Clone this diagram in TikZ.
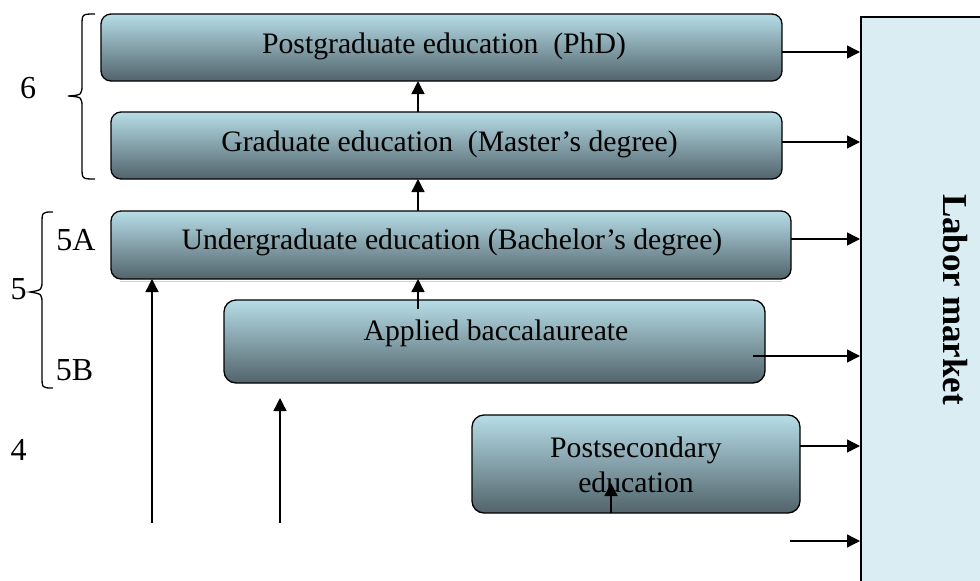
\documentclass[tikz,border=0pt]{standalone}
\usepackage{fontspec}
\setmainfont{Liberation Serif}
\usetikzlibrary{arrows.meta,calc}
\definecolor{boxtop}{HTML}{B6DDE7}
\definecolor{boxmid}{HTML}{A0BFC7}
\definecolor{boxbot}{HTML}{52636B}
\definecolor{lmfill}{HTML}{DAEDF3}
\begin{document}
\begin{tikzpicture}[x=1pt,y=-1pt,
  ebox/.style={draw=black, line width=1.3pt, rounded corners=10pt,
    top color=boxtop, middle color=boxmid, bottom color=boxbot,
    inner sep=0pt, outer sep=0pt},
  txt/.style={font=\fontsize{29.7}{35}\selectfont, inner sep=0pt, align=center},
  lvl/.style={font=\fontsize{32}{36}\selectfont, inner sep=0pt},
  arr/.style={line width=1.4pt, -{Triangle[length=13pt,width=13pt]}},
  brace/.style={line width=1.3pt}
]
\useasboundingbox (0,0) rectangle (980,581);

% Labor market
\begin{scope}
\clip (0,0) rectangle (980,581);
\node[draw=black, line width=1.5pt, fill=lmfill, minimum width=140pt, minimum height=600pt, anchor=north west, inner sep=0pt] (lm) at (860,16) {};
\end{scope}
\node[font=\fontsize{35}{40}\selectfont\bfseries, rotate=-90, inner sep=0pt] (lmt) at (955.5,299.5) {Labor market};

% boxes
\node[ebox, minimum width=681pt, minimum height=67pt] (pg) at (441.5,47.5) {};
\node[ebox, minimum width=671pt, minimum height=67pt] (gr) at (446.5,145.5) {};
\draw[gray!35, line width=1pt] (120,281) -- (782,281);
\node[ebox, minimum width=680pt, minimum height=68pt] (ug) at (451,245) {};
\node[ebox, minimum width=541pt, minimum height=83pt, rounded corners=12pt] (ab) at (494.5,341.5) {};
\node[ebox, minimum width=328pt, minimum height=98pt, rounded corners=12pt] (ps) at (636,464) {};

% texts
\node[txt] (pgt) at (444,46) {Postgraduate education\ \ (PhD)};
\node[txt] (grt) at (449.5,144) {Graduate education\ \ (Master’s degree)};
\node[txt] (ugt) at (452,242) {Undergraduate education (Bachelor’s degree)};
\node[txt] (abt) at (496,333) {Applied baccalaureate};
\node[txt] (pst) at (636,465) {Postsecondary\\education};

% level labels
\node[lvl] (l6) at (28,88) {6};
\node[lvl] (l5) at (18.5,289) {5};
\node[lvl] (l5a) at (76,240) {5A};
\node[lvl] (l5b) at (74.5,370) {5B};
\node[lvl] (l4) at (18.5,450) {4};

% braces
\draw[brace] (95,14) .. controls (82,14) .. (82,26) -- (82,84)
  .. controls (82,95) .. (68,96) .. controls (82,97) .. (82,108)
  -- (82,167) .. controls (82,179) .. (95,179);
\draw[brace] (53,212) .. controls (42,212) .. (42,224) -- (42,280)
  .. controls (42,290) .. (30,292) .. controls (42,294) .. (42,304)
  -- (42,376) .. controls (42,388) .. (53,388);

% arrows to labor market
\coordinate (a1) at ([yshift=-4.5pt]pg.east);
\coordinate (a2) at ([yshift=3.5pt]gr.east);
\coordinate (a3) at ([yshift=6pt]ug.east);
\coordinate (a4) at (753,356);
\coordinate (a5) at ([yshift=18pt]ps.east);
\coordinate (a6) at (790,541);
\draw[arr] (a1) -- (a1 -| lm.west);
\draw[arr] (a2) -- (a2 -| lm.west);
\draw[arr] (a3) -- (a3 -| lm.west);
\draw[arr] (a4) -- (a4 -| lm.west);
\draw[arr] (a5) -- (a5 -| lm.west);
\draw[arr] (a6) -- (a6 -| lm.west);

% vertical arrows
\coordinate (vx) at (418,0);
\draw[arr] (gr.north -| vx) -- (pg.south -| vx);
\draw[arr] (ug.north -| vx) -- (gr.south -| vx);
\coordinate (abu) at (418,309);
\draw[arr] (abu) -- (ug.south -| vx);
\coordinate (in1) at (152,523);
\draw[arr] (in1) -- (in1 |- ug.south);
\coordinate (in2) at (280,523);
\coordinate (in2t) at (280,398);
\draw[arr] (in2) -- (in2t);
\coordinate (px) at (611,483);
\draw[arr] (px |- ps.south) -- (px);
\end{tikzpicture}
\end{document}
